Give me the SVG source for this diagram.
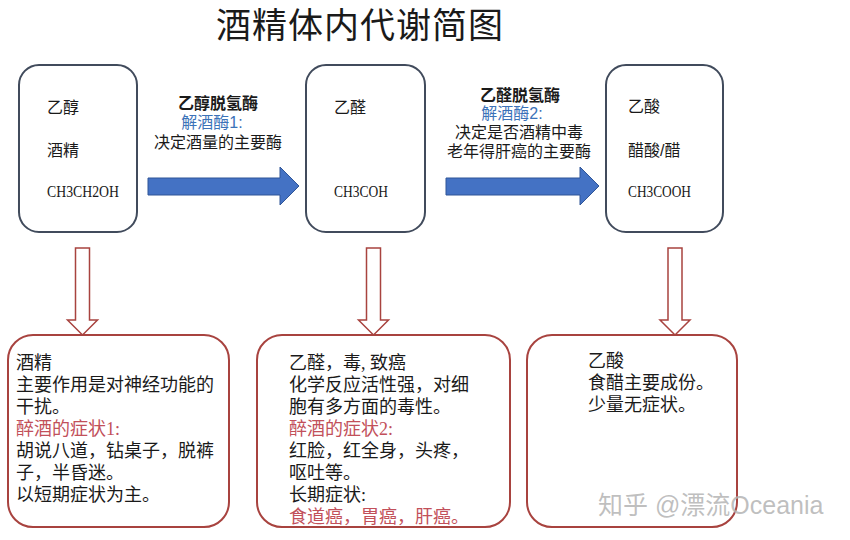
<svg xmlns="http://www.w3.org/2000/svg" width="850" height="540" viewBox="0 0 850 540">
<style>
text{font-family:"Liberation Sans","Noto Sans CJK SC",sans-serif;fill:#1a1a1a}
.title{font-size:35px;letter-spacing:1px}
.lbl{font-size:16px}
.f{font-family:"Liberation Serif","Noto Sans CJK SC",serif;font-size:16px}
.enz{font-size:16px;font-weight:bold}
.blue{fill:#3b72b8}
.pink{fill:#c2505a}
.body{font-family:"Liberation Serif","Noto Sans CJK SC",serif;font-size:18px}
.top{fill:#fff;stroke:#414b5c;stroke-width:2}
.bot{fill:#fff;stroke:#a8433f;stroke-width:2}
.barrow{fill:#4472c4;stroke:#2f5597;stroke-width:1}
.rarrow{fill:#fff;stroke:#a8433f;stroke-width:1.5}
.wm{font-family:"Liberation Sans","Noto Sans CJK SC",sans-serif;font-size:25px;fill:#b4b4b4;fill-opacity:0.85}
</style>
<rect width="850" height="540" fill="#fff"/>
<text class="title" x="216" y="38">酒精体内代谢简图</text>

<g id="connectors">
<polygon class="barrow" points="148,178 280,178 280,167 299,186 280,205 280,195 148,195"/>
<polygon class="barrow" points="446,178 580,178 580,167 599,186 580,205 580,195 446,195"/>
<polygon class="rarrow" points="75.5,248 89.5,248 89.5,320 97.5,320 82.5,335 67.5,320 75.5,320"/>
<polygon class="rarrow" points="366.5,248 380.5,248 380.5,320 388.5,320 373.5,335 358.5,320 366.5,320"/>
<polygon class="rarrow" points="668,248 682,248 682,320 690,320 675,335 660,320 668,320"/>
</g>

<g id="enzyme1">
<text class="enz" x="218" y="109" text-anchor="middle">乙醇脱氢酶</text>
<text class="lbl blue" x="212" y="128" text-anchor="middle">解酒酶1:</text>
<text class="lbl" x="218" y="148" text-anchor="middle">决定酒量的主要酶</text>
</g>
<g id="enzyme2">
<text class="enz" x="520" y="101" text-anchor="middle">乙醛脱氢酶</text>
<text class="lbl blue" x="512" y="119" text-anchor="middle">解酒酶2:</text>
<text class="lbl" x="519" y="138" text-anchor="middle">决定是否酒精中毒</text>
<text class="lbl" x="519" y="157" text-anchor="middle">老年得肝癌的主要酶</text>
</g>

<g id="ethanol">
<rect class="top" x="19" y="65" width="118" height="167" rx="20"/>
<text class="lbl" x="47" y="113">乙醇</text>
<text class="lbl" x="47" y="156">酒精</text>
<text class="f" x="47" y="197" textLength="72" lengthAdjust="spacingAndGlyphs">CH3CH2OH</text>
</g>
<g id="acetaldehyde">
<rect class="top" x="306" y="65" width="119" height="167" rx="20"/>
<text class="lbl" x="334" y="113">乙醛</text>
<text class="f" x="334" y="197" textLength="54" lengthAdjust="spacingAndGlyphs">CH3COH</text>
</g>
<g id="acetic">
<rect class="top" x="606" y="65" width="117" height="167" rx="20"/>
<text class="lbl" x="628" y="112">乙酸</text>
<text class="lbl" x="628" y="156">醋酸/醋</text>
<text class="f" x="628" y="197" textLength="63" lengthAdjust="spacingAndGlyphs">CH3COOH</text>
</g>

<g id="ethanol-effects">
<rect class="bot" x="8" y="335" width="221" height="192" rx="25"/>
<text class="body" x="16" y="369">酒精</text>
<text class="body" x="16" y="391">主要作用是对神经功能的</text>
<text class="body" x="16" y="413">干扰。</text>
<text class="body pink" x="16" y="435">醉酒的症状1:</text>
<text class="body" x="16" y="457">胡说八道，钻桌子，脱裤</text>
<text class="body" x="16" y="479">子，半昏迷。</text>
<text class="body" x="16" y="501">以短期症状为主。</text>
</g>
<g id="acetaldehyde-effects">
<rect class="bot" x="257" y="335" width="253" height="192" rx="25"/>
<text class="body" x="289" y="369">乙醛，毒, 致癌</text>
<text class="body" x="289" y="391">化学反应活性强，对细</text>
<text class="body" x="289" y="413">胞有多方面的毒性。</text>
<text class="body pink" x="289" y="435">醉酒的症状2:</text>
<text class="body" x="289" y="457">红脸，红全身，头疼，</text>
<text class="body" x="289" y="479">呕吐等。</text>
<text class="body" x="289" y="501">长期症状:</text>
<text class="body pink" x="289" y="523">食道癌，胃癌，肝癌。</text>
</g>
<g id="acetic-effects">
<rect class="bot" x="527" y="335" width="210" height="192" rx="25"/>
<text class="body" x="588" y="367">乙酸</text>
<text class="body" x="588" y="389">食醋主要成份。</text>
<text class="body" x="588" y="411">少量无症状。</text>
</g>
<text class="wm" x="598" y="514">知乎 @漂流Oceania</text>
</svg>
